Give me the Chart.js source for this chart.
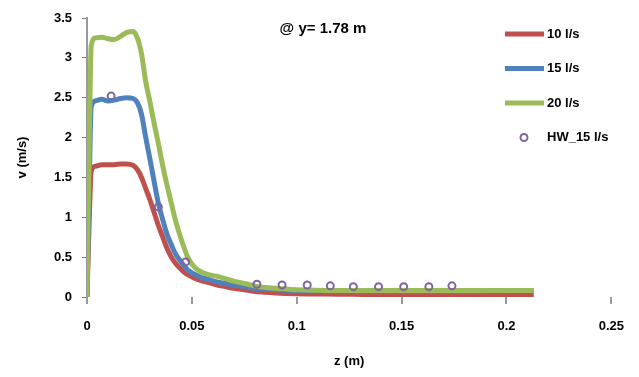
<!DOCTYPE html>
<html>
<head>
<meta charset="utf-8">
<script src="https://cdn.jsdelivr.net/npm/chart.js@4.4.1/dist/chart.umd.min.js"></script>
<style>
  body { margin: 0; background: #fff; }
  canvas { display: block; }
</style>
</head>
<body>
<canvas id="velocity-chart" width="639" height="377"></canvas>
<script>
// z positions (m) shared by the three measured profiles
const zLine = [0, 0.001, 0.002, 0.004, 0.007, 0.010, 0.013, 0.016, 0.019, 0.022,
  0.024, 0.026, 0.028, 0.030, 0.032, 0.034, 0.036, 0.038, 0.040, 0.042,
  0.044, 0.046, 0.048, 0.051, 0.054, 0.058, 0.062, 0.066, 0.070, 0.075,
  0.080, 0.085, 0.090, 0.100, 0.120, 0.140, 0.160, 0.180, 0.200, 0.213];

// velocity (m/s) for each flow rate
const v10 = [0, 0.9, 1.58, 1.64, 1.66, 1.66, 1.66, 1.67, 1.67, 1.65,
  1.60, 1.50, 1.36, 1.22, 1.06, 0.90, 0.76, 0.62, 0.51, 0.43,
  0.37, 0.32, 0.28, 0.24, 0.21, 0.18, 0.15, 0.13, 0.11, 0.09,
  0.07, 0.06, 0.05, 0.04, 0.035, 0.03, 0.03, 0.03, 0.03, 0.03];
const v15 = [0, 1.3, 2.38, 2.46, 2.48, 2.46, 2.47, 2.49, 2.50, 2.49,
  2.44, 2.29, 2.00, 1.73, 1.45, 1.18, 0.98, 0.80, 0.67, 0.55,
  0.47, 0.40, 0.34, 0.29, 0.25, 0.22, 0.19, 0.17, 0.15, 0.13,
  0.11, 0.10, 0.09, 0.08, 0.075, 0.07, 0.07, 0.07, 0.075, 0.08];
const v20 = [0, 1.8, 3.15, 3.25, 3.26, 3.24, 3.23, 3.27, 3.32, 3.33,
  3.25, 3.05, 2.70, 2.45, 2.18, 1.93, 1.66, 1.42, 1.20, 0.98,
  0.80, 0.64, 0.50, 0.38, 0.32, 0.28, 0.26, 0.23, 0.20, 0.17,
  0.14, 0.12, 0.11, 0.09, 0.08, 0.08, 0.08, 0.08, 0.08, 0.08];

// HW_15 l/s points
const zHW = [0.0115, 0.034, 0.047, 0.081, 0.093, 0.105, 0.116, 0.127, 0.139, 0.151, 0.163, 0.174];
const vHW = [2.52, 1.13, 0.44, 0.16, 0.15, 0.15, 0.14, 0.13, 0.13, 0.13, 0.13, 0.14];

const seriesLabels = ["10 l/s", "15 l/s", "20 l/s", "HW_15 l/s"];
const chartTitle = "@ y= 1.78 m";

function toPoints(xs, ys) {
  return xs.map((x, i) => ({ x: x, y: ys[i] }));
}

// plain number labels like 0, 0.5, 1, 0.05, 0.1
function plainTick(value) {
  return String(Number(value.toFixed(3)));
}

const FONT = "'Liberation Sans', Arial, sans-serif";

// title + legend drawn inside the plot like the original
const overlayPlugin = {
  id: 'overlay',
  afterDraw(chart) {
    const ctx = chart.ctx;
    ctx.save();
    ctx.fillStyle = '#000';
    ctx.font = 'bold 15px ' + FONT;
    ctx.textAlign = 'center';
    ctx.textBaseline = 'middle';
    ctx.fillText(chartTitle, 323, 29);

    ctx.font = 'bold 13px ' + FONT;
    ctx.textAlign = 'left';
    chart.data.datasets.forEach((ds, i) => {
      const y = 34 + i * 34.5;
      ctx.strokeStyle = ds.borderColor;
      if (ds.showLine === false) {
        ctx.lineWidth = 2;
        ctx.beginPath();
        ctx.arc(524, y, 3.5, 0, Math.PI * 2);
        ctx.stroke();
      } else {
        ctx.lineWidth = 5;
        ctx.beginPath();
        ctx.moveTo(505, y);
        ctx.lineTo(544, y);
        ctx.stroke();
      }
      ctx.fillStyle = '#000';
      ctx.fillText(ds.label, 547, y);
    });
    ctx.restore();
  }
};

const ctx = document.getElementById('velocity-chart').getContext('2d');
const chart = new Chart(ctx, {
  type: 'line',
  data: {
    datasets: [
      {
        label: seriesLabels[0],
        data: toPoints(zLine, v10),
        borderColor: '#C0504D',
        borderWidth: 5,
        pointRadius: 0,
        cubicInterpolationMode: 'monotone',
        order: 3
      },
      {
        label: seriesLabels[1],
        data: toPoints(zLine, v15),
        borderColor: '#4F81BD',
        borderWidth: 5,
        pointRadius: 0,
        cubicInterpolationMode: 'monotone',
        order: 2
      },
      {
        label: seriesLabels[2],
        data: toPoints(zLine, v20),
        borderColor: '#9BBB59',
        borderWidth: 5,
        pointRadius: 0,
        cubicInterpolationMode: 'monotone',
        order: 1
      },
      {
        label: seriesLabels[3],
        data: toPoints(zHW, vHW),
        borderColor: '#8064A2',
        backgroundColor: 'rgba(0,0,0,0)',
        showLine: false,
        pointStyle: 'circle',
        pointRadius: 3.5,
        pointBorderWidth: 2,
        order: 0
      }
    ]
  },
  options: {
    responsive: false,
    animation: false,
    layout: { padding: { top: 18, right: 19, left: 0, bottom: 0 } },
    plugins: {
      legend: { display: false },
      tooltip: { enabled: false }
    },
    scales: {
      x: {
        type: 'linear',
        min: 0,
        max: 0.25,
        border: { display: false },
        grid: { drawOnChartArea: false, drawTicks: true, tickLength: 7, color: '#999', lineWidth: 2 },
        ticks: { stepSize: 0.05, padding: 15, color: '#000', callback: plainTick, font: { family: FONT, size: 13, weight: 'bold' } },
        title: { display: true, text: 'z (m)', color: '#000', padding: { top: 0, bottom: 8 }, font: { family: FONT, size: 13, weight: 'bold' } },
        afterFit(scale) { scale.height = 80; }
      },
      y: {
        min: 0,
        max: 3.5,
        border: { display: true, color: '#999', width: 2 },
        grid: { drawOnChartArea: false, drawTicks: true, tickLength: 5, color: '#777' },
        ticks: { stepSize: 0.5, padding: 10, color: '#000', callback: plainTick, font: { family: FONT, size: 13, weight: 'bold' } },
        title: { display: true, text: 'v (m/s)', color: '#000', padding: { top: 15, bottom: 0 }, font: { family: FONT, size: 13, weight: 'bold' } },
        afterFit(scale) { scale.width = 87; }
      }
    }
  },
  plugins: [overlayPlugin]
});
</script>
</body>
</html>
